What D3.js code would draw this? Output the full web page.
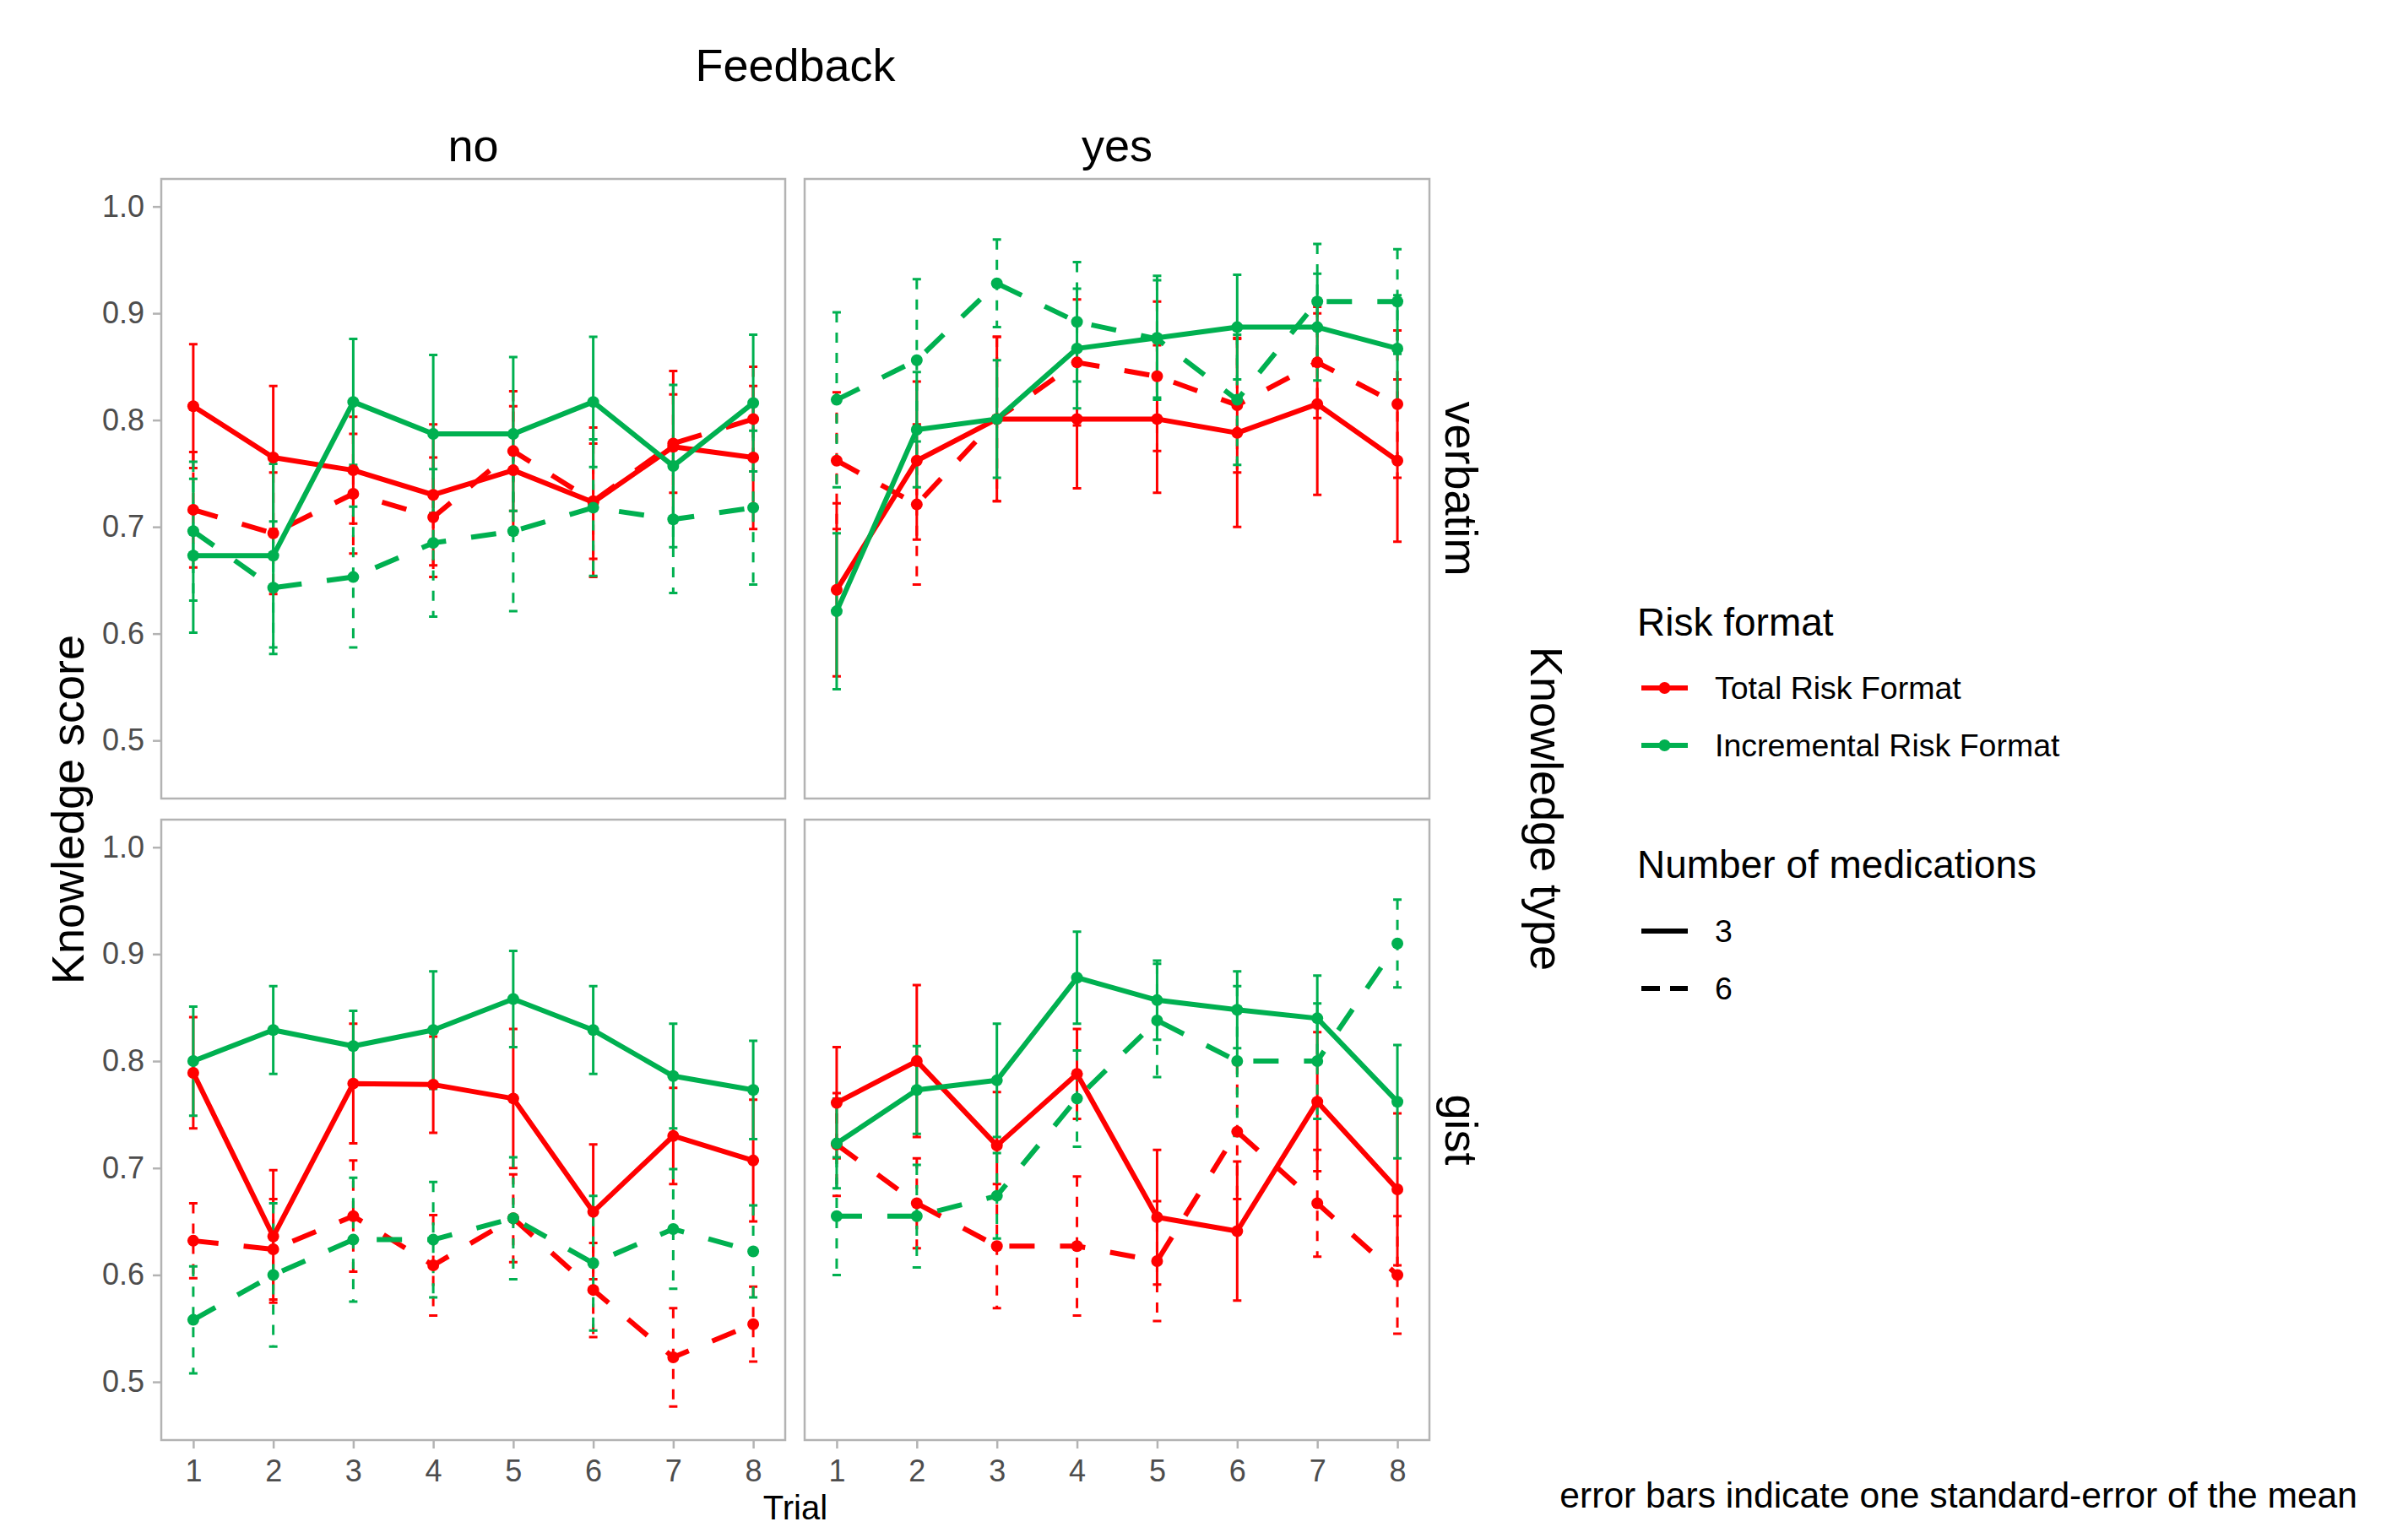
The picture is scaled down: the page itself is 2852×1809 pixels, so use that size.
<!DOCTYPE html>
<html>
<head>
<meta charset="utf-8">
<script src="https://cdn.jsdelivr.net/npm/d3@7/dist/d3.min.js"></script>
<style>
  body { margin: 0; background: #fff; }
  text { font-family: "Liberation Sans", Arial, sans-serif; }
</style>
</head>
<body>
<svg id="chart"></svg>
<script>
const trials = [1, 2, 3, 4, 5, 6, 7, 8];
const feedbackLevels = ["no", "yes"];
const knowledgeTypes = ["verbatim", "gist"];
const riskFormats = ["Total Risk Format", "Incremental Risk Format"];
const medCounts = ["3", "6"];
const yTicks = [0.5, 0.6, 0.7, 0.8, 0.9, 1.0];

// verbatim, feedback = no
const verbNoTotal3 = [0.813, 0.765, 0.753, 0.730, 0.753, 0.723, 0.775, 0.765];
const verbNoTotal3SE = [0.058, 0.067, 0.050, 0.066, 0.060, 0.070, 0.071, 0.067];
const verbNoTotal6 = [0.716, 0.694, 0.731, 0.709, 0.771, 0.724, 0.778, 0.801];
const verbNoTotal6SE = [0.054, 0.057, 0.056, 0.056, 0.056, 0.054, 0.046, 0.049];
const verbNoIncr3 = [0.673, 0.673, 0.817, 0.787, 0.787, 0.817, 0.757, 0.816];
const verbNoIncr3SE = [0.072, 0.086, 0.059, 0.074, 0.072, 0.061, 0.076, 0.064];
const verbNoIncr6 = [0.696, 0.643, 0.653, 0.685, 0.696, 0.718, 0.707, 0.718];
const verbNoIncr6SE = [0.065, 0.062, 0.066, 0.069, 0.075, 0.064, 0.069, 0.072];

// verbatim, feedback = yes
const verbYesTotal3 = [0.641, 0.762, 0.801, 0.801, 0.801, 0.788, 0.815, 0.762];
const verbYesTotal3SE = [0.081, 0.074, 0.077, 0.065, 0.069, 0.088, 0.085, 0.076];
const verbYesTotal6 = [0.762, 0.721, 0.801, 0.854, 0.841, 0.814, 0.854, 0.815];
const verbYesTotal6SE = [0.064, 0.075, 0.077, 0.059, 0.070, 0.063, 0.052, 0.069];
const verbYesIncr3 = [0.621, 0.791, 0.801, 0.867, 0.877, 0.887, 0.887, 0.867];
const verbYesIncr3SE = [0.073, 0.054, 0.055, 0.056, 0.058, 0.049, 0.050, 0.050];
const verbYesIncr6 = [0.819, 0.856, 0.928, 0.892, 0.876, 0.819, 0.911, 0.911];
const verbYesIncr6SE = [0.082, 0.076, 0.041, 0.056, 0.055, 0.061, 0.054, 0.049];

// gist, feedback = no
const gistNoTotal3 = [0.789, 0.636, 0.779, 0.778, 0.765, 0.659, 0.730, 0.707];
const gistNoTotal3SE = [0.052, 0.062, 0.056, 0.045, 0.065, 0.063, 0.045, 0.057];
const gistNoTotal6 = [0.632, 0.624, 0.655, 0.609, 0.653, 0.586, 0.523, 0.554];
const gistNoTotal6SE = [0.035, 0.047, 0.052, 0.047, 0.041, 0.044, 0.046, 0.035];
const gistNoIncr3 = [0.800, 0.829, 0.814, 0.829, 0.858, 0.829, 0.786, 0.773];
const gistNoIncr3SE = [0.051, 0.041, 0.033, 0.055, 0.045, 0.041, 0.049, 0.046];
const gistNoIncr6 = [0.558, 0.600, 0.633, 0.633, 0.653, 0.611, 0.643, 0.622];
const gistNoIncr6SE = [0.050, 0.067, 0.058, 0.054, 0.057, 0.063, 0.056, 0.043];

// gist, feedback = yes
const gistYesTotal3 = [0.761, 0.800, 0.721, 0.788, 0.654, 0.641, 0.762, 0.680];
const gistYesTotal3SE = [0.052, 0.071, 0.050, 0.042, 0.063, 0.065, 0.065, 0.071];
const gistYesTotal6 = [0.722, 0.667, 0.627, 0.627, 0.613, 0.734, 0.667, 0.600];
const gistYesTotal6SE = [0.048, 0.042, 0.058, 0.065, 0.056, 0.063, 0.050, 0.055];
const gistYesIncr3 = [0.723, 0.773, 0.782, 0.878, 0.857, 0.848, 0.840, 0.762];
const gistYesIncr3SE = [0.042, 0.041, 0.053, 0.043, 0.037, 0.036, 0.040, 0.053];
const gistYesIncr6 = [0.655, 0.655, 0.674, 0.765, 0.838, 0.800, 0.800, 0.910];
const gistYesIncr6SE = [0.055, 0.048, 0.040, 0.045, 0.053, 0.070, 0.054, 0.041];

const panels = [
  { row: 0, col: 0, series: [
    [verbNoTotal3, verbNoTotal3SE, 0, 0], [verbNoTotal6, verbNoTotal6SE, 0, 1],
    [verbNoIncr3, verbNoIncr3SE, 1, 0], [verbNoIncr6, verbNoIncr6SE, 1, 1]] },
  { row: 0, col: 1, series: [
    [verbYesTotal3, verbYesTotal3SE, 0, 0], [verbYesTotal6, verbYesTotal6SE, 0, 1],
    [verbYesIncr3, verbYesIncr3SE, 1, 0], [verbYesIncr6, verbYesIncr6SE, 1, 1]] },
  { row: 1, col: 0, series: [
    [gistNoTotal3, gistNoTotal3SE, 0, 0], [gistNoTotal6, gistNoTotal6SE, 0, 1],
    [gistNoIncr3, gistNoIncr3SE, 1, 0], [gistNoIncr6, gistNoIncr6SE, 1, 1]] },
  { row: 1, col: 1, series: [
    [gistYesTotal3, gistYesTotal3SE, 0, 0], [gistYesTotal6, gistYesTotal6SE, 0, 1],
    [gistYesIncr3, gistYesIncr3SE, 1, 0], [gistYesIncr6, gistYesIncr6SE, 1, 1]] }
];

const W = 2852, H = 1809;
const colX = [[191, 930], [953, 1693]];
const rowY = [[212, 946], [971, 1706]];
const colors = d3.scaleOrdinal().domain(riskFormats).range(['#FF0000', '#00B050']);
const lineDash = ['none', '30,30'];
const barDash = ['none', '12,12'];
const axisGrey = '#b3b3b3';
const labelGrey = '#4d4d4d';

const svg = d3.select('#chart').attr('width', W).attr('height', H);
svg.append('rect').attr('width', W).attr('height', H).attr('fill', '#fff');

const yDomain = [0.4456, 1.0258];

panels.forEach(p => {
  const x = d3.scaleLinear().domain([0.6, 8.4]).range(colX[p.col]);
  const y = d3.scaleLinear().domain(yDomain).range([rowY[p.row][1], rowY[p.row][0]]);
  const g = svg.append('g');

  const rows = p.series.map(([mean, se, r, m]) => ({
    color: colors(riskFormats[r]), m,
    pts: trials.map((t, i) => ({ t, v: mean[i], se: se[i] }))
  }));

  // error bars
  const capW = 5;
  rows.forEach(s => {
    g.append('path')
      .attr('d', s.pts.map(d => {
        const cx = x(d.t), y1 = y(d.v + d.se), y2 = y(d.v - d.se);
        return `M${cx - capW},${y1}H${cx + capW}M${cx},${y1}V${y2}M${cx - capW},${y2}H${cx + capW}`;
      }).join(''))
      .attr('fill', 'none')
      .attr('stroke', s.color)
      .attr('stroke-width', 3)
      .attr('stroke-dasharray', barDash[s.m]);
  });

  // lines
  const line = d3.line().x(d => x(d.t)).y(d => y(d.v));
  rows.forEach(s => {
    g.append('path')
      .datum(s.pts)
      .attr('d', line)
      .attr('fill', 'none')
      .attr('stroke', s.color)
      .attr('stroke-width', 6)
      .attr('stroke-linejoin', 'round')
      .attr('stroke-dasharray', lineDash[s.m]);
  });

  // points
  rows.forEach(s => {
    g.selectAll(null)
      .data(s.pts)
      .enter().append('circle')
      .attr('cx', d => x(d.t))
      .attr('cy', d => y(d.v))
      .attr('r', 7)
      .attr('fill', s.color);
  });

  // panel border
  g.append('rect')
    .attr('x', colX[p.col][0]).attr('y', rowY[p.row][0])
    .attr('width', colX[p.col][1] - colX[p.col][0])
    .attr('height', rowY[p.row][1] - rowY[p.row][0])
    .attr('fill', 'none')
    .attr('stroke', axisGrey)
    .attr('stroke-width', 2.5);

  if (p.col === 0) {
    const ax = svg.append('g')
      .attr('transform', `translate(${colX[0][0]},0)`)
      .call(d3.axisLeft(y).tickValues(yTicks).tickFormat(d3.format('.1f')).tickSize(10).tickPadding(10));
    styleAxis(ax);
  }
  if (p.row === 1) {
    const ax = svg.append('g')
      .attr('transform', `translate(0,${rowY[1][1]})`)
      .call(d3.axisBottom(x).tickValues(trials).tickFormat(d3.format('d')).tickSize(10).tickPadding(13));
    styleAxis(ax);
  }
});

function styleAxis(ax) {
  ax.select('.domain').remove();
  ax.selectAll('.tick line').attr('stroke', axisGrey).attr('stroke-width', 2.5);
  ax.selectAll('.tick text')
    .attr('fill', labelGrey)
    .style('font-size', '36px')
    .style('font-family', '"Liberation Sans", Arial, sans-serif');
}

// titles and strips
svg.append('text').attr('x', 942).attr('y', 96).attr('text-anchor', 'middle')
  .style('font-size', '54px').text('Feedback');

feedbackLevels.forEach((f, i) => {
  svg.append('text')
    .attr('x', (colX[i][0] + colX[i][1]) / 2).attr('y', 191)
    .attr('text-anchor', 'middle').style('font-size', '54px').text(f);
});

knowledgeTypes.forEach((k, i) => {
  const cy = (rowY[i][0] + rowY[i][1]) / 2;
  svg.append('text')
    .attr('transform', `translate(1712,${cy}) rotate(90)`)
    .attr('text-anchor', 'middle').style('font-size', '54px').text(k);
});

svg.append('text')
  .attr('transform', `translate(1813,958) rotate(90)`)
  .attr('text-anchor', 'middle').style('font-size', '54px').text('Knowledge type');

svg.append('text')
  .attr('transform', `translate(99,959) rotate(-90)`)
  .attr('text-anchor', 'middle').style('font-size', '54px').text('Knowledge score');

svg.append('text').attr('x', 942).attr('y', 1800).attr('text-anchor', 'middle')
  .style('font-size', '40px').text('Trial');

// legends
const legX0 = 1944, legX1 = 1999, legTextX = 2031;
svg.append('text').attr('x', 1939).attr('y', 753).style('font-size', '46px').text('Risk format');
riskFormats.forEach((r, i) => {
  const ly = 815 + i * 68;
  svg.append('line').attr('x1', legX0).attr('x2', legX1).attr('y1', ly).attr('y2', ly)
    .attr('stroke', colors(r)).attr('stroke-width', 6);
  svg.append('circle').attr('cx', (legX0 + legX1) / 2).attr('cy', ly).attr('r', 7).attr('fill', colors(r));
  svg.append('text').attr('x', legTextX).attr('y', ly).attr('dy', '0.35em')
    .style('font-size', '37.5px').text(r);
});

svg.append('text').attr('x', 1939).attr('y', 1040).style('font-size', '46px').text('Number of medications');
medCounts.forEach((m, i) => {
  const ly = 1103 + i * 68;
  svg.append('line').attr('x1', legX0).attr('x2', legX1).attr('y1', ly).attr('y2', ly)
    .attr('stroke', '#000').attr('stroke-width', 6)
    .attr('stroke-dasharray', i === 1 ? '22,12' : null);
  svg.append('text').attr('x', legTextX).attr('y', ly).attr('dy', '0.35em')
    .style('font-size', '37.5px').text(m);
});

svg.append('text').attr('x', 2792).attr('y', 1786).attr('text-anchor', 'end')
  .style('font-size', '42.6px').text('error bars indicate one standard-error of the mean');
</script>
</body>
</html>
